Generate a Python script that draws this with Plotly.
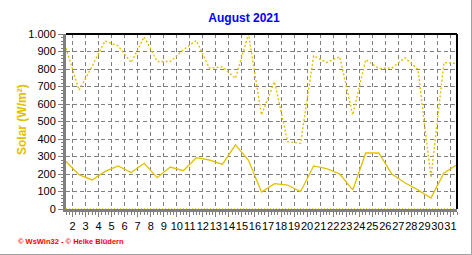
import plotly.graph_objects as go

# Daily solar radiation, August 2021 (W/m²)
days = list(range(1, 32))
solar_max = [919, 679, 815, 961, 932, 837, 984, 843, 843, 910, 963, 805, 812, 747, 1000,
             538, 728, 385, 375, 875, 837, 870, 538, 854, 803, 806, 864, 799, 179, 837, 831]
solar_avg = [271, 196, 166, 215, 246, 208, 261, 179, 240, 219, 293, 280, 255, 366, 278,
             97, 145, 137, 99, 246, 231, 200, 109, 320, 320, 200, 150, 109, 63, 206, 253]
solar_min = [0] * 31

x_tick_start, x_tick_end = 2, 31
y_ticks_max, y_step = 1000, 100

YELLOW = "#e3c000"
GRID = "#808080"

# each daily value is plotted at noon of its day (grid lines mark midnight)
x_noon = [d + 0.5 for d in days]

fig = go.Figure()
fig.add_trace(go.Scatter(x=x_noon, y=solar_min, mode="lines",
                         line=dict(color=YELLOW, width=1.5, dash="1px,2px"),
                         cliponaxis=False, hoverinfo="skip"))
fig.add_trace(go.Scatter(x=x_noon, y=solar_max, mode="lines",
                         line=dict(color=YELLOW, width=1.4, dash="2px,2px"),
                         hoverinfo="skip"))
fig.add_trace(go.Scatter(x=x_noon, y=solar_avg, mode="lines",
                         line=dict(color=YELLOW, width=1.3),
                         hoverinfo="skip"))

font = "Liberation Sans, Arial, sans-serif"
L, R, T, B = 66, 15, 34, 46
W, H = 472, 255
pw, ph = W - L - R, H - T - B

def px_x(px):
    return (px - L) / pw

def px_y(py):
    return (H - B - py) / ph

fig.update_layout(
    width=W, height=H,
    margin=dict(l=L, r=R, t=T, b=B, pad=0),
    paper_bgcolor="white", plot_bgcolor="white",
    showlegend=False,
    separators=",.",
    font=dict(family=font, size=11, color="black"),
    title=dict(text="<b>August 2021</b>", x=244 / W, xref="container", xanchor="center",
               y=1 - 18 / H, yref="container", yanchor="middle",
               font=dict(family=font, size=12, color="#0000ff")),
    xaxis=dict(range=[days[0] + 0.5, days[-1] + 0.5], tickmode="linear",
               tick0=x_tick_start, dtick=1, tickangle=0,
               showgrid=True, gridcolor=GRID, griddash="4px,3px", gridwidth=1,
               zeroline=False, showline=True, linecolor=GRID, linewidth=3,
               ticks="outside", ticklen=5, tickcolor=GRID, tickwidth=1,
               minor=dict(dtick=0.25, tick0=1.5, ticks="outside", ticklen=3,
                          tickcolor=GRID, tickwidth=1, showgrid=False),
               layer="below traces",
               tickfont=dict(family=font, size=11, color="black"),
               fixedrange=True),
    yaxis=dict(range=[0, y_ticks_max], tickmode="linear", tick0=0, dtick=y_step,
               tickformat=",d",
               showgrid=True, gridcolor=GRID, griddash="4px,3px", gridwidth=1,
               zeroline=False, showline=True, linecolor=GRID, linewidth=3,
               ticks="outside", ticklen=5, tickcolor=GRID, tickwidth=1,
               minor=dict(dtick=20, ticks="outside", ticklen=2,
                          tickcolor=GRID, tickwidth=1, showgrid=False),
               layer="below traces",
               tickfont=dict(family=font, size=11, color="black"),
               fixedrange=True),
    annotations=[
        dict(text="<b>Solar (W/m²)</b>", textangle=-90, xref="paper", yref="paper",
             x=px_x(22), y=px_y(120), xanchor="center", yanchor="middle",
             showarrow=False, font=dict(family=font, size=12, color=YELLOW)),
        dict(text="<b>© WsWin32 - © Heike Blüdern</b>", xref="paper", yref="paper",
             x=px_x(16), y=px_y(241), xanchor="left", yanchor="middle",
             showarrow=False, font=dict(family=font, size=7.5, color="#ff0000")),
    ],
    shapes=[
        dict(type="line", xref="paper", yref="paper", x0=0, x1=1, y0=1, y1=1,
             line=dict(color="black", width=2)),
        dict(type="line", xref="paper", yref="paper", x0=1, x1=1, y0=0, y1=1,
             line=dict(color="black", width=2)),
        dict(type="line", xref="paper", yref="paper", x0=px_x(0), x1=px_x(471.5),
             y0=px_y(254.5), y1=px_y(254.5), line=dict(color="#a0a0a0", width=1)),
        dict(type="line", xref="paper", yref="paper", x0=px_x(471.5), x1=px_x(471.5),
             y0=px_y(0), y1=px_y(254.5), line=dict(color="#a0a0a0", width=1)),
    ],
)

fig.write_html("out.html", config=dict(displayModeBar=False, staticPlot=True))
